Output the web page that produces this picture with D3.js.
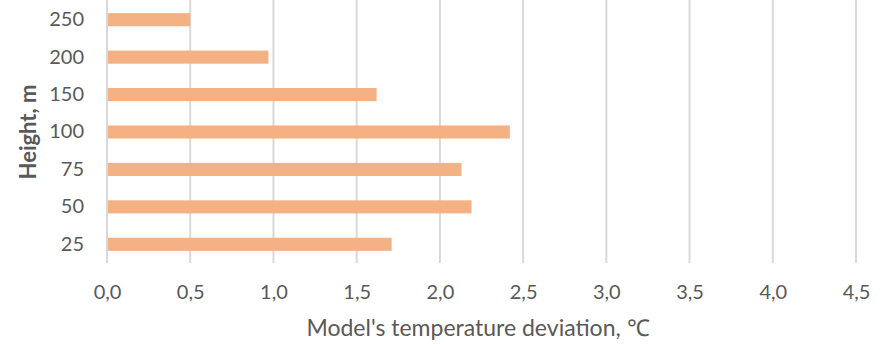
<!DOCTYPE html>
<html>
<head>
<meta charset="utf-8">
<script src="https://cdn.jsdelivr.net/npm/d3@7"></script>
<style>
  body { margin: 0; background: #fff; }
  text { font-family: Lato, "Open Sans", sans-serif; fill: #595959; }
</style>
</head>
<body>
<svg id="chart" width="881" height="344"></svg>
<script>
// heights (categories), bottom to top
const heights = ["25", "50", "75", "100", "150", "200", "250"]
// model temperature deviation, °C
const deviation = [1.71, 2.19, 2.13, 2.42, 1.62, 0.97, 0.50]
const xTicks = [0, 0.5, 1, 1.5, 2, 2.5, 3, 3.5, 4, 4.5]

const svg = d3.select('#chart')
const margin = {top: 1, right: 25, bottom: 81, left: 107}
const width = 881, height = 344

var x = d3.scaleLinear().domain([0, 4.5])
    .range([margin.left, width - margin.right])
// top category at the top
var y = d3.scaleBand().domain(heights.slice().reverse())
    .range([margin.top, height - margin.bottom])
    .paddingInner(0.65).paddingOuter(0.325)

// vertical gridlines
svg.append('g')
    .selectAll('line')
    .data(xTicks)
    .enter()
    .append('line')
    .attr('x1', d => x(d)).attr('x2', d => x(d))
    .attr('y1', margin.top - 1).attr('y2', height - margin.bottom)
    .style('stroke', '#d9d9d9')
    .style('stroke-width', 2)

// bars
svg.append('g')
    .selectAll('rect')
    .data(heights)
    .enter()
    .append('rect')
    .attr('x', x(0) + 1)
    .attr('y', d => y(d))
    .attr('width', (d, i) => x(deviation[i]) - x(0) - 1)
    .attr('height', y.bandwidth())
    .style('fill', '#f4b183')

// x axis labels
var xAxis = svg.append('g')
    .attr('transform', `translate(0,${height - margin.bottom + 13})`)
    .call(d3.axisBottom(x).tickValues(xTicks).tickSize(0)
        .tickFormat(d => d3.format('.1f')(d).replace('.', ',')))
xAxis.select('.domain').remove()
xAxis.selectAll('text').style('font-size', '20px').attr('dy', '1em')

// y axis labels
var yAxis = svg.append('g')
    .attr('transform', `translate(${margin.left - 20},0)`)
    .call(d3.axisLeft(y).tickSize(0))
yAxis.select('.domain').remove()
yAxis.selectAll('text').style('font-size', '20px')

// axis titles
svg.append('text')
    .attr('x', 478)
    .attr('y', 336)
    .attr('text-anchor', 'middle')
    .style('font-size', '23px')
    .text("Model's temperature deviation, \u2103")

svg.append('text')
    .attr('transform', `translate(36,${(margin.top + height - margin.bottom) / 2}) rotate(-90)`)
    .attr('text-anchor', 'middle')
    .style('font-size', '22px')
    .style('font-weight', 'bold')
    .text('Height, m')
</script>
</body>
</html>
